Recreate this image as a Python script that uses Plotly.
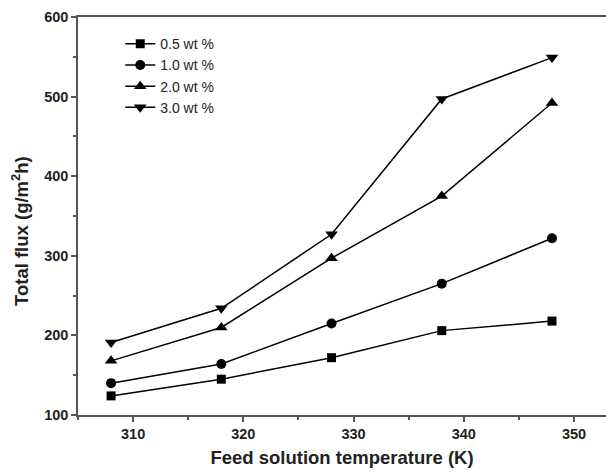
import plotly.graph_objects as go

# Feed solution temperature (K)
temperature = [308, 318, 328, 338, 348]

# Total flux (g/m^2 h) for each feed concentration
flux_05 = [124, 145, 172, 206, 218]
flux_10 = [140, 164, 215, 265, 322]
flux_20 = [168, 210, 297, 375, 492]
flux_30 = [191, 234, 327, 497, 549]

series = [
    ("0.5 wt %", flux_05, "square", 9),
    ("1.0 wt %", flux_10, "circle", 10),
    ("2.0 wt %", flux_20, "triangle-up", 11),
    ("3.0 wt %", flux_30, "triangle-down", 11),
]

FONT = "Liberation Sans, Arial, sans-serif"
AXIS_GREY = "#555"

fig = go.Figure()
for name, ys, symbol, size in series:
    fig.add_trace(go.Scatter(
        x=temperature, y=ys, name=name, mode="lines+markers",
        line=dict(color="black", width=1.5),
        marker=dict(symbol=symbol, size=size, color="black"),
    ))

fig.update_layout(
    width=606, height=474,
    margin=dict(l=78, r=0, t=17, b=59),
    plot_bgcolor="white", paper_bgcolor="white",
    showlegend=True,
    legend=dict(
        x=0.08, y=0.972, xanchor="left", yanchor="top",
        bgcolor="rgba(0,0,0,0)",
        font=dict(family=FONT, size=14, color="#222"),
        tracegroupgap=0, itemwidth=30,
    ),
    annotations=[dict(
        text="<b>Total flux (g/m<sup>2</sup>h)</b>", textangle=-90,
        xref="paper", yref="paper", x=-58 / 528, y=(415 - 231) / 398,
        xanchor="center", yanchor="middle", showarrow=False,
        font=dict(family=FONT, size=18.5, color="#222"),
    )],
)
fig.update_xaxes(
    range=[305, 352.9], tickvals=[310, 320, 330, 340, 350],
    showgrid=False, zeroline=False,
    showline=True, linecolor=AXIS_GREY, linewidth=1.5, mirror=True,
    ticks="outside", ticklen=5, tickwidth=1.5, tickcolor=AXIS_GREY,
    minor=dict(tickvals=[305, 315, 325, 335, 345], ticks="outside", ticklen=3, tickwidth=1.5,
               tickcolor=AXIS_GREY, showgrid=False),
    tickfont=dict(family=FONT, size=14.5, color="#222", weight="bold"),
    title=dict(text="<b>Feed solution temperature (K)</b>", font=dict(family=FONT, size=18.5, color="#222"), standoff=10),
)
fig.update_yaxes(
    range=[100, 600], tickvals=[100, 200, 300, 400, 500, 600],
    showgrid=False, zeroline=False,
    showline=True, linecolor=AXIS_GREY, linewidth=1.5, mirror=False,
    ticks="outside", ticklen=5, tickwidth=1.5, tickcolor=AXIS_GREY,
    minor=dict(tickvals=[150, 250, 350, 450, 550], ticks="outside", ticklen=3, tickwidth=1.5,
               tickcolor=AXIS_GREY, showgrid=False),
    tickfont=dict(family=FONT, size=14.5, color="#222", weight="bold"),
)

fig.write_html("out.html")
